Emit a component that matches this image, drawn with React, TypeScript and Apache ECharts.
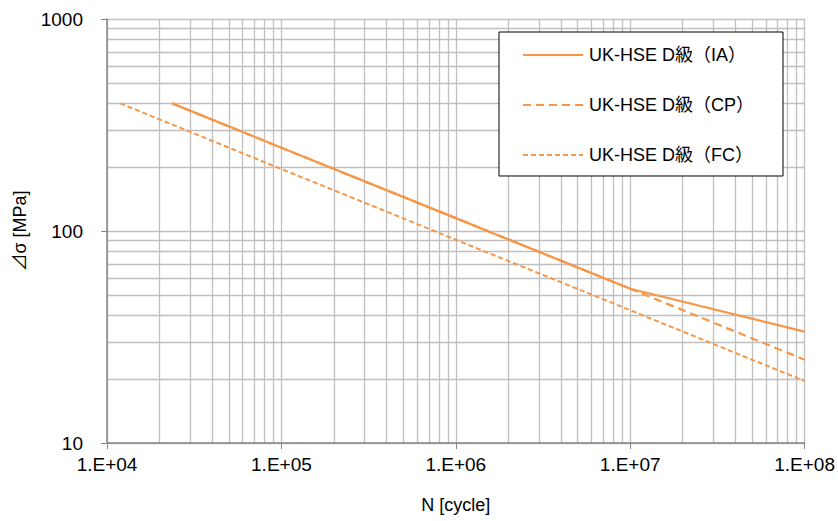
import React, { useEffect, useRef } from "react";
import * as echarts from "echarts";

// Values (N [cycle], Δσ [MPa])
const iaN = [23600, 100000, 1000000, 10000000, 100000000];
const iaS = [400, 247, 115, 53.4, 33.5];
const cpN = [23600, 100000, 1000000, 10000000, 100000000];
const cpS = [400, 247, 115, 53.4, 24.7];
const fcN = [11900, 100000, 1000000, 10000000, 100000000];
const fcS = [400, 196, 91, 42.3, 19.6];

const seriesNames = ["UK-HSE D級（IA）", "UK-HSE D級（CP）", "UK-HSE D級（FC）"];

const xDecades = [1e4, 1e5, 1e6, 1e7];
const yDecades = [10, 100];
const minorSteps = [2, 3, 4, 5, 6, 7, 8, 9];

const FONT = "'Liberation Sans', 'Noto Sans CJK JP', 'DejaVu Sans', sans-serif";
const ORANGE = "#F79646";
const GRID = "#BFBFBF";

function pairs(xs: number[], ys: number[]) {
  return xs.map((x, i) => [x, ys[i]]);
}

export default function App() {
  const ref = useRef<HTMLDivElement>(null);
  useEffect(() => {
    if (!ref.current) return;
    const chart = echarts.init(ref.current, undefined, { renderer: "svg" });
    const xMinor: any[] = [];
    xDecades.forEach((d) => minorSteps.forEach((k) => xMinor.push({ xAxis: d * k })));
    const yMinor: any[] = [];
    yDecades.forEach((d) => minorSteps.forEach((k) => yMinor.push({ yAxis: d * k })));

    chart.setOption({
      animation: false,
      backgroundColor: "#fff",
      textStyle: { fontFamily: FONT },
      grid: { left: 107, right: 33, top: 19, bottom: 78 },
      legend: {
        orient: "vertical",
        left: 499,
        top: 32,
        padding: [14, 29, 12, 23],
        itemGap: 32,
        itemWidth: 60,
        itemHeight: 16,
        backgroundColor: "#fff",
        borderColor: "#000",
        borderWidth: 1,
        borderRadius: 0,
        itemStyle: { opacity: 0, borderWidth: 0 },
        textStyle: { fontFamily: FONT, fontSize: 18, color: "#000", padding: [0, 0, 0, 1] },
        data: seriesNames,
      },
      xAxis: {
        type: "log",
        logBase: 10,
        min: 1e4,
        max: 1e8,
        splitNumber: 4,
        name: "N [cycle]",
        nameLocation: "middle",
        nameGap: 53,
        nameTextStyle: { fontFamily: FONT, fontSize: 18, color: "#000" },
        axisLine: { lineStyle: { color: "#868686", width: 1.5 } },
        axisTick: { show: true, length: 6, lineStyle: { color: "#868686" } },
        axisLabel: {
          fontFamily: FONT,
          fontSize: 19,
          color: "#000",
          margin: 12,
          formatter: (v: number) => {
            const e = Math.round(Math.log10(v));
            return "1.E+" + String(e).padStart(2, "0");
          },
        },
        splitLine: { show: true, lineStyle: { color: GRID, width: 1.3 } },
      },
      yAxis: {
        type: "log",
        logBase: 10,
        min: 10,
        max: 1000,
        splitNumber: 2,
        name: "⊿σ [MPa]",
        nameLocation: "middle",
        nameGap: 78,
        nameRotate: 90,
        nameTextStyle: { fontFamily: FONT, fontSize: 18, color: "#000" },
        axisLine: { show: true, lineStyle: { color: "#868686", width: 1.5 } },
        axisTick: { show: true, length: 6, lineStyle: { color: "#868686" } },
        axisLabel: {
          fontFamily: FONT,
          fontSize: 19,
          color: "#000",
          margin: 24,
          formatter: (v: number) => String(Math.round(v)),
        },
        splitLine: { show: true, lineStyle: { color: GRID, width: 1.3 } },
      },
      series: [
        {
          name: "grid-minor",
          type: "line",
          data: [],
          silent: true,
          z: 0,
          markLine: {
            silent: true,
            symbol: ["none", "none"],
            label: { show: false },
            animation: false,
            z: 0,
            lineStyle: { color: GRID, type: "solid", width: 1.3 },
            emphasis: { disabled: true },
            data: [...xMinor, ...yMinor],
          },
        },
        {
          name: seriesNames[0],
          type: "line",
          data: pairs(iaN, iaS),
          symbol: "none",
          z: 10,
          lineStyle: { color: ORANGE, width: 2.2, type: "solid" },
          itemStyle: { color: ORANGE },
        },
        {
          name: seriesNames[1],
          type: "line",
          data: pairs(cpN, cpS),
          symbol: "none",
          z: 10,
          lineStyle: { color: ORANGE, width: 2.2, type: [8, 5] },
          itemStyle: { color: ORANGE },
        },
        {
          name: seriesNames[2],
          type: "line",
          data: pairs(fcN, fcS),
          symbol: "none",
          z: 10,
          lineStyle: { color: ORANGE, width: 2, type: [5, 3] },
          itemStyle: { color: ORANGE },
        },
      ],
    });
    return () => chart.dispose();
  }, []);
  return <div ref={ref} style={{ width: 838, height: 521, position: "absolute", left: 0, top: 0 }} />;
}
